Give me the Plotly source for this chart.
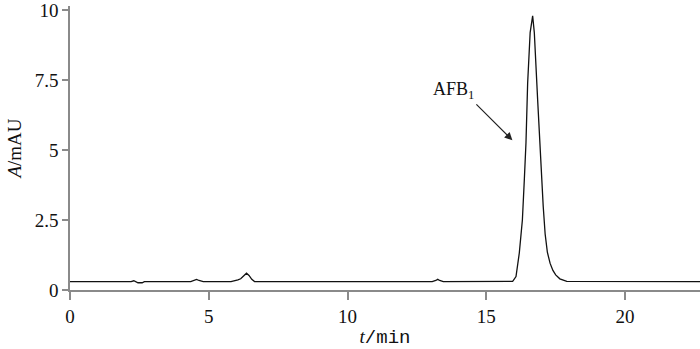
import plotly.graph_objects as go

# retention time (min) and absorbance (mAU)
t_min = [0.0, 2.2, 2.3, 2.38, 2.45, 2.6, 2.68, 4.35, 4.5, 4.56, 4.65, 4.8,
         5.8, 5.95, 6.05, 6.15, 6.25, 6.36, 6.45, 6.55, 6.65,
         13.05, 13.18, 13.25, 13.32, 13.45,
         15.95, 16.07, 16.19, 16.3, 16.37, 16.43, 16.49, 16.58, 16.67,
         16.73, 16.85, 16.97, 17.05, 17.12, 17.2, 17.3, 17.4, 17.5, 17.65,
         17.9, 22.7]
a_mau = [0.30, 0.30, 0.33, 0.30, 0.26, 0.26, 0.30, 0.30, 0.35, 0.38, 0.34, 0.30,
         0.30, 0.32, 0.36, 0.40, 0.50, 0.60, 0.52, 0.38, 0.30,
         0.30, 0.34, 0.38, 0.34, 0.30,
         0.31, 0.48, 1.33, 2.5, 3.94, 5.27, 7.4, 9.2, 9.8,
         9.2, 6.8, 4.4, 3.0, 2.0, 1.35, 0.95, 0.70, 0.54, 0.40,
         0.31, 0.30]

x_ticks = [0, 5, 10, 15, 20]
y_ticks = [0, 2.5, 5, 7.5, 10]
y_ticktext = ["0", "2.5", "5", "7.5", "10"]

peak_label = "AFB<sub>1</sub>"
arrow_tip = (15.94, 5.35)

font_family = "Liberation Serif, DejaVu Serif, serif"
mono = "font-family:'Liberation Mono', monospace"

fig = go.Figure()
fig.add_trace(go.Scatter(x=t_min, y=a_mau, mode="lines",
                         line=dict(color="#111111", width=1.3),
                         showlegend=False, hoverinfo="skip"))

fig.add_annotation(x=arrow_tip[0], y=arrow_tip[1], text=peak_label, showarrow=True,
                   ax=-36, ay=-36, xanchor="right", yanchor="bottom",
                   arrowhead=2, arrowsize=1.3, arrowwidth=1.2,
                   arrowcolor="#222222",
                   font=dict(family=font_family, size=18, color="#111111"))

axis_common = dict(showline=True, linecolor="#8a8a8a", linewidth=1.5,
                   ticks="outside", tickcolor="#8a8a8a", tickwidth=1.5,
                   showgrid=False, zeroline=False, automargin=False,
                   ticklabeloverflow="allow",
                   tickfont=dict(family=font_family, size=19, color="#111111"))

fig.update_xaxes(range=[0, 22.7], tickvals=x_ticks, ticklen=8,
                 title=dict(text=f"<i>t</i><span style=\"{mono}\">/min</span>", standoff=6,
                            font=dict(family=font_family, size=19, color="#111111")),
                 **axis_common)
fig.update_yaxes(range=[0, 10.15], tickvals=y_ticks, ticktext=y_ticktext, ticklen=6,
                 title=dict(text="<i>A</i>/mAU", standoff=8,
                            font=dict(family=font_family, size=19, color="#111111")),
                 **axis_common)

fig.update_layout(width=700, height=349, margin=dict(l=70, r=0, t=6, b=59),
                  plot_bgcolor="white", paper_bgcolor="white")

fig.write_html("out.html", config={"displayModeBar": False},
               post_script="document.body.style.margin='0';document.body.style.overflow='hidden';")
